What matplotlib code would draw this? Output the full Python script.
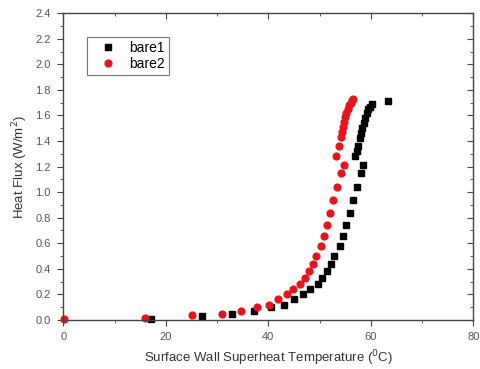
import matplotlib.pyplot as plt
from matplotlib.ticker import MultipleLocator

plt.rcParams["font.family"] = ["Liberation Sans", "DejaVu Sans"]

# === DATA ===
bare1_x = [17.1, 27.1, 33.0, 37.2, 40.5, 43.1, 45.1, 46.8, 48.1, 49.6, 50.5, 51.4,
           52.2, 52.9, 53.9, 54.5, 55.2, 55.9, 56.5, 57.3, 58.0, 58.5,
           57.0, 57.3, 57.5, 57.9, 58.1, 58.3, 58.6, 58.9, 59.2, 59.4, 59.8, 60.2, 63.3]
bare1_y = [0.01, 0.03, 0.05, 0.07, 0.10, 0.12, 0.16, 0.20, 0.24, 0.28, 0.33, 0.38,
           0.44, 0.50, 0.58, 0.66, 0.74, 0.84, 0.94, 1.04, 1.15, 1.21,
           1.28, 1.32, 1.36, 1.42, 1.46, 1.50, 1.54, 1.58, 1.62, 1.65, 1.67, 1.69, 1.71]

bare2_x = [0.1, 15.9, 25.2, 30.9, 34.7, 37.8, 40.1, 41.9, 43.6, 44.9, 46.1, 47.2,
           48.0, 48.7, 49.4, 50.2, 50.8, 51.4, 52.1, 52.7, 53.5, 54.2, 54.7,
           53.2, 53.7, 54.2, 54.4, 54.6, 54.8, 55.0, 55.2, 55.5, 55.8, 56.1, 56.3, 56.5]
bare2_y = [0.01, 0.015, 0.04, 0.05, 0.07, 0.10, 0.12, 0.16, 0.20, 0.24, 0.28, 0.33,
           0.38, 0.44, 0.50, 0.58, 0.66, 0.74, 0.84, 0.94, 1.04, 1.15, 1.21,
           1.28, 1.36, 1.43, 1.47, 1.51, 1.55, 1.59, 1.62, 1.65, 1.68, 1.70, 1.72, 1.73]

# === PLOT ===
fig = plt.figure(figsize=(4.8, 3.69), dpi=100)
ax = fig.add_axes([0.132, 0.133, 0.854, 0.831])

ax.plot(bare1_x, bare1_y, "s", color="black", markersize=4.3, label="bare1", clip_on=False)
ax.plot(bare2_x, bare2_y, "o", color="#e8141c", markersize=4.9, label="bare2", clip_on=False)

ax.set_xlim(0, 80)
ax.set_ylim(0, 2.4)
ax.xaxis.set_major_locator(MultipleLocator(20))
ax.xaxis.set_minor_locator(MultipleLocator(10))
ax.yaxis.set_major_locator(MultipleLocator(0.2))
ax.yaxis.set_minor_locator(MultipleLocator(0.1))
ax.yaxis.set_major_formatter(plt.FormatStrFormatter("%.1f"))

# outward ticks on left/bottom
ax.tick_params(which="both", direction="out", labelsize=8, labelcolor="#555555",
               color="#444444", pad=4.5)
ax.tick_params(which="major", length=4.5)
ax.tick_params(which="minor", length=2.5)

# inward mirror ticks on top/right (no labels)
sx = ax.secondary_xaxis("top")
sx.tick_params(which="both", direction="in", color="#444444", labeltop=False)
sy = ax.secondary_yaxis("right")
sy.tick_params(which="both", direction="in", color="#444444", labelright=False)
for sec in (sx, sy):
    sec.tick_params(which="major", length=4.5)
    sec.tick_params(which="minor", length=2.5)
    sec.spines[:].set_visible(False)
sx.xaxis.set_major_locator(MultipleLocator(20))
sx.xaxis.set_minor_locator(MultipleLocator(10))
sy.yaxis.set_major_locator(MultipleLocator(0.2))
sy.yaxis.set_minor_locator(MultipleLocator(0.1))

for s in ax.spines.values():
    s.set_color("#444444")
    s.set_linewidth(1.0)

ax.set_xlabel("Surface Wall Superheat Temperature ($^0$C)", fontsize=9.5, color="#333333")
ax.set_ylabel("Heat Flux (W/m$^2$)", fontsize=9.5, color="#333333")

leg = ax.legend(loc="upper left", bbox_to_anchor=(0.058, 0.923), borderaxespad=0,
                fancybox=False, edgecolor="#555555", fontsize=10, handletextpad=0.35,
                borderpad=0.3, labelspacing=0.15, handlelength=2.4)
leg.get_frame().set_linewidth(0.8)

fig.savefig("out.png", dpi=100)
